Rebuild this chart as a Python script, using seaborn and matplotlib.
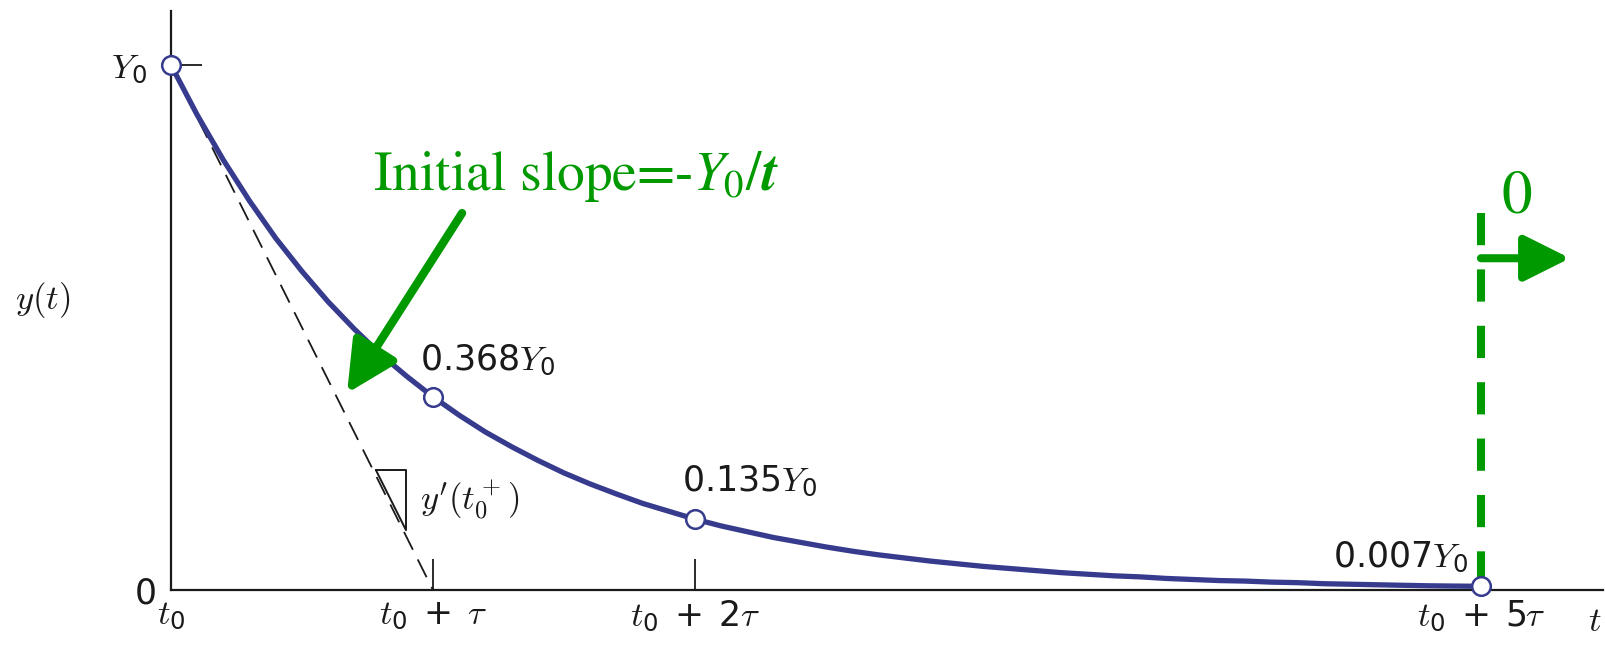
import numpy as np
import pandas as pd
import matplotlib
matplotlib.use("Agg")
import matplotlib.pyplot as plt
import seaborn as sns

# ---- data (time in units of tau, response in units of Y0) ----
curve_t = [0.0, 0.1, 0.2, 0.3, 0.4, 0.5, 0.6, 0.7, 0.8, 0.9,
           1.0, 1.1, 1.2, 1.3, 1.4, 1.5, 1.6, 1.7, 1.8, 1.9,
           2.0, 2.1, 2.2, 2.3, 2.4, 2.5, 2.6, 2.7, 2.8, 2.9,
           3.0, 3.1, 3.2, 3.3, 3.4, 3.5, 3.6, 3.7, 3.8, 3.9,
           4.0, 4.1, 4.2, 4.3, 4.4, 4.5, 4.6, 4.7, 4.8, 4.9, 5.0]
curve_y = [1.000, 0.905, 0.819, 0.741, 0.670, 0.607, 0.549, 0.497, 0.449, 0.407,
           0.368, 0.333, 0.301, 0.273, 0.247, 0.223, 0.202, 0.183, 0.165, 0.150,
           0.135, 0.122, 0.111, 0.100, 0.091, 0.082, 0.074, 0.067, 0.061, 0.055,
           0.050, 0.045, 0.041, 0.037, 0.033, 0.030, 0.027, 0.025, 0.022, 0.020,
           0.018, 0.017, 0.015, 0.014, 0.012, 0.011, 0.010, 0.009, 0.008, 0.0075, 0.007]

point_t = [0, 1, 2, 5]
point_y = [1.0, 0.368, 0.135, 0.007]
point_labels = [None, r"$0.368Y_0$", r"$0.135Y_0$", r"$0.007Y_0$"]

tangent_t = [0, 1]
tangent_y = [1, 0]

xtick_pos = [0, 1, 2, 5]
xtick_labels = [r"$t_0$", r"$t_0\;+\;\tau$", r"$t_0\;+\;2\tau$", r"$t_0\;+\;5\tau$"]
ytick_pos = [0, 1]
ytick_labels = ["0", r"$Y_0$"]

# ---- style ----
sns.set_style("white")
plt.rcParams["font.family"] = ["DejaVu Sans"]
plt.rcParams["mathtext.fontset"] = "custom"
plt.rcParams["mathtext.rm"] = "DejaVu Sans"
plt.rcParams["mathtext.it"] = "cmmi10"
plt.rcParams["mathtext.fallback"] = "cm"

NAVY = "#373b8d"
GREEN = "#009900"
INK = "#1a1a1a"
FS = 25

fig = plt.figure(figsize=(16.06, 6.46), dpi=100)
ax = fig.add_axes([171 / 1606, 56 / 646, 1432 / 1606, 579 / 646])
ax.set_xlim(0, 5.466)
ax.set_ylim(0, 1.103)

for side in ("top", "right"):
    ax.spines[side].set_visible(False)
for side in ("left", "bottom"):
    ax.spines[side].set_linewidth(1.6)
    ax.spines[side].set_color(INK)

# tangent at t0 (drawn under the curve)
ax.plot(tangent_t, tangent_y, color=INK, lw=1.3, dashes=(11, 6), zorder=2)

# slope triangle next to the tangent
tri_x = [0.782, 0.897, 0.897, 0.782]
tri_y = [0.2286, 0.2286, 0.114, 0.2286]
ax.plot(tri_x, tri_y, color=INK, lw=1.4, zorder=2)
ax.text(0.95, 0.171, r"$y'(t_0^+)$", fontsize=FS, math_fontfamily="cm",
        ha="left", va="center", color=INK)

# decay curve and marked points
df = pd.DataFrame({"t": curve_t, "y": curve_y})
sns.lineplot(data=df, x="t", y="y", ax=ax, color=NAVY, lw=3.8, sort=False, zorder=3)
pts = pd.DataFrame({"t": point_t, "y": point_y})
sns.scatterplot(data=pts, x="t", y="y", ax=ax, s=180, color="white",
                edgecolor=NAVY, linewidth=1.8, zorder=6, clip_on=False)

label_offsets = [None, (-9, 19), (-9, 20), (-9, 14)]
label_ha = [None, "left", "left", "right"]
for t, y, lab, off, ha in zip(point_t, point_y, point_labels, label_offsets, label_ha):
    if lab is None:
        continue
    ax.annotate(lab, xy=(t, y), xytext=off, textcoords="offset points",
                ha=ha, va="baseline", fontsize=FS, color=INK)

# ticks
ax.set_xticks(xtick_pos, xtick_labels)
ax.set_yticks(ytick_pos, ytick_labels)
ax.tick_params(axis="both", direction="in", length=22, width=1.3, color=INK,
               labelsize=FS, labelcolor=INK, bottom=True, left=True)
ax.tick_params(axis="x", pad=6)
xt = ax.xaxis.get_major_ticks()
for i in (0, 3):
    xt[i].tick1line.set_visible(False)
yt = ax.yaxis.get_major_ticks()
yt[0].tick1line.set_visible(False)
yt[0].set_pad(10)
yt[1].set_pad(17)

ax.set_xlabel(r"$t$", fontsize=FS, color=INK)
ax.xaxis.set_label_coords(0.994, -0.054)
ax.xaxis.label.set_va("center")
ax.set_ylabel(r"$y(t)$", fontsize=FS, rotation=0, color=INK, math_fontfamily="cm")
ax.yaxis.set_label_coords(-0.0894, 0.501)
ax.yaxis.label.set_ha("center")
ax.yaxis.label.set_va("center")

# green annotations
ax.text(0.771, 0.762, r"Initial slope=-$Y_{\mathit{0}}/\mathbfit{t}$",
        fontsize=40, color=GREEN, family="STIXGeneral", math_fontfamily="stix",
        ha="left", va="baseline")
ax.annotate("", xy=(0.672, 0.375), xytext=(1.111, 0.718),
            arrowprops=dict(arrowstyle="-|>,head_length=1.1,head_width=0.55",
                            mutation_scale=28, lw=6, color=GREEN,
                            shrinkA=0, shrinkB=0))

ax.plot([5, 5], [0.718, 0.0], color=GREEN, lw=5.8, dashes=(4, 3),
        solid_capstyle="butt", dash_capstyle="butt", zorder=4)
ax.annotate("", xy=(5.340, 0.632), xytext=(5.0, 0.632),
            arrowprops=dict(arrowstyle="-|>,head_length=1.0,head_width=0.5",
                            mutation_scale=28, lw=5.8, color=GREEN,
                            shrinkA=0, shrinkB=0))
ax.text(5.137, 0.747, "0", fontsize=44, color=GREEN, family="STIXGeneral",
        ha="center", va="center")

ax.set_facecolor("white")
fig.patch.set_facecolor("white")
fig.savefig("out.png", dpi=100, facecolor="white")
